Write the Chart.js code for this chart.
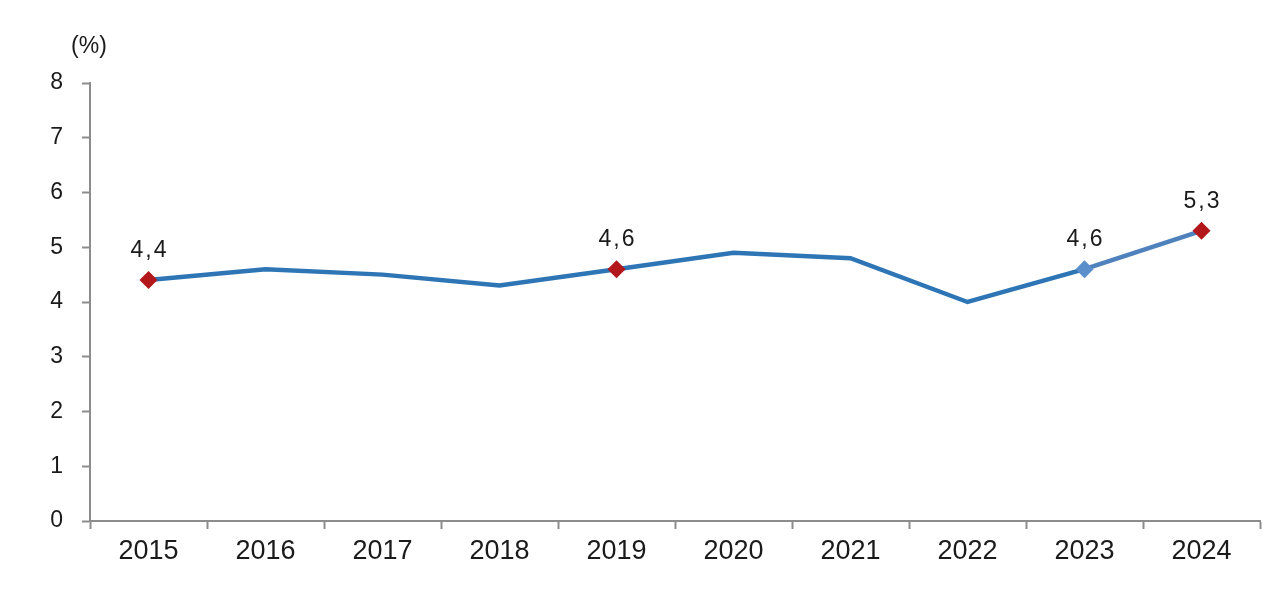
<!DOCTYPE html>
<html>
<head>
<meta charset="utf-8">
<script src="https://cdn.jsdelivr.net/npm/chart.js@4/dist/chart.umd.min.js"></script>
<style>
  html, body { margin: 0; padding: 0; background: #fff; }
  #wrap { width: 1280px; height: 598px; }
</style>
</head>
<body>
<div id="wrap"><canvas id="chart"></canvas></div>
<script>
const years = ["2015", "2016", "2017", "2018", "2019", "2020", "2021", "2022", "2023", "2024"];
const rates = [4.4, 4.6, 4.5, 4.3, 4.6, 4.9, 4.8, 4.0, 4.6, 5.3];
// which points get a marker and a value label
const labelled = [true, false, false, false, true, false, false, false, true, true];
const markerColors = ["#B2171C", null, null, null, "#B2171C", null, null, null, "#5B8FCB", "#B2171C"];
const yTicks = [0, 1, 2, 3, 4, 5, 6, 7, 8];

const axisColor = "#8C8C8C";
const fontFamily = "Liberation Sans, Arial, sans-serif";

// Value labels above marked points, plus the "(%)" unit
const labelsPlugin = {
  id: "labels",
  afterDatasetsDraw(chart) {
    const ctx = chart.ctx;
    const meta = chart.getDatasetMeta(0);
    ctx.save();
    ctx.font = "23px " + fontFamily;
    ctx.fillStyle = "#1a1a1a";
    ctx.textAlign = "center";
    ctx.textBaseline = "middle";
    if ("letterSpacing" in ctx) ctx.letterSpacing = "2px";
    meta.data.forEach((pt, i) => {
      if (!labelled[i]) return;
      ctx.fillText(rates[i].toFixed(1).replace(".", ","), pt.x + 1, pt.y - 29);
    });
    if ("letterSpacing" in ctx) ctx.letterSpacing = "0px";
    ctx.fillText("(%)", 89, 47);
    ctx.restore();
  },
};

new Chart(document.getElementById("chart"), {
  type: "line",
  plugins: [labelsPlugin],
  data: {
    labels: years,
    datasets: [
      {
        data: rates,
        borderColor: "#2E75B6",
        borderWidth: 4.5,
        tension: 0,
        segment: {
          borderColor: (c) => (c.p0DataIndex === 8 ? "#4F81BD" : "#2E75B6"),
        },
        pointStyle: "rectRot",
        pointRadius: labelled.map((l) => (l ? 9 : 0)),
        pointHoverRadius: labelled.map((l) => (l ? 9 : 0)),
        pointBackgroundColor: markerColors.map((c) => c || "#2E75B6"),
        pointBorderColor: markerColors.map((c) => c || "#2E75B6"),
        pointBorderWidth: 0,
      },
    ],
  },
  options: {
    responsive: true,
    maintainAspectRatio: false,
    animation: false,
    layout: { padding: { top: 83, right: 20, left: 0, bottom: 0 } },
    plugins: { legend: { display: false }, tooltip: { enabled: false } },
    scales: {
      x: {
        offset: true,
        grid: {
          offset: true,
          drawOnChartArea: false,
          color: axisColor,
          tickLength: 8,
          tickWidth: 2,
        },
        border: { color: axisColor, width: 2 },
        ticks: { color: "#1a1a1a", font: { family: fontFamily, size: 27 }, padding: 6, maxRotation: 0 },
        afterFit: (s) => { s.height = 77; },
      },
      y: {
        min: 0,
        max: 8,
        afterBuildTicks: (s) => { s.ticks = yTicks.map((v) => ({ value: v })); },
        grid: {
          drawOnChartArea: false,
          color: axisColor,
          tickLength: 8,
          tickWidth: 2,
        },
        border: { color: axisColor, width: 2 },
        ticks: { color: "#1a1a1a", font: { family: fontFamily, size: 23 }, padding: 19 },
        afterFit: (s) => { s.width = 90; },
      },
    },
  },
});
</script>
</body>
</html>
